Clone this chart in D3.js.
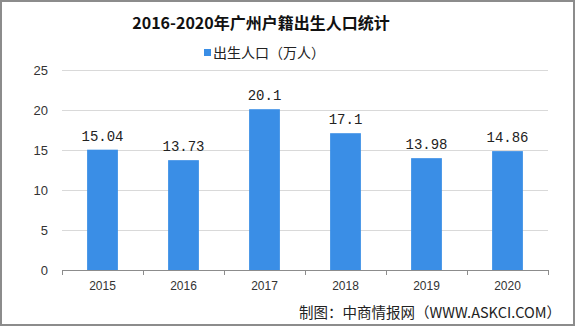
<!DOCTYPE html>
<html>
<head>
<meta charset="utf-8">
<script src="https://cdn.jsdelivr.net/npm/d3@7"></script>
<style>
  body { margin: 0; background: #fff; }
  svg { display: block; }
</style>
</head>
<body>
<div id="chart"></div>
<script>
// data
var years = ["2015", "2016", "2017", "2018", "2019", "2020"]
var births = [15.04, 13.73, 20.1, 17.1, 13.98, 14.86]
var birthLabels = ["15.04", "13.73", "20.1", "17.1", "13.98", "14.86"]
var yTicks = [0, 5, 10, 15, 20, 25]

var width = 575
var height = 326
// plot area edges ("top" is taken by window.top, so use own names)
var plotLeft = 62, plotRight = 548, plotTop = 70, plotBottom = 270

var svg = d3.select("#chart")
  .append("svg")
  .attr("width", width)
  .attr("height", height)

// outer frame
svg.append("rect")
  .attr("x", 1).attr("y", 1)
  .attr("width", width - 2).attr("height", height - 2)
  .attr("fill", "#fff")
  .attr("stroke", "#8c8c8c")
  .attr("stroke-width", 2)

var xscale = d3.scaleBand()
  .domain(years)
  .range([plotLeft, plotRight])
  .paddingInner(0.62)
  .paddingOuter(0.31)

var yscale = d3.scaleLinear()
  .domain([0, 25])
  .range([plotBottom, plotTop])

// gridlines
svg.append("g")
  .selectAll("line")
  .data(yTicks.filter(function(d){ return d > 0 }))
  .enter()
  .append("line")
  .attr("x1", plotLeft)
  .attr("x2", plotRight)
  .attr("y1", function(d){ return Math.round(yscale(d)) + 0.5 })
  .attr("y2", function(d){ return Math.round(yscale(d)) + 0.5 })
  .attr("stroke", "#d9d9d9")
  .attr("stroke-width", 1)

// y axis labels (no axis line)
var yaxis = d3.axisLeft(yscale).tickValues(yTicks).tickSize(0).tickPadding(14)
var yg = svg.append("g")
  .attr("transform", "translate(" + plotLeft + ",0)")
  .call(yaxis)
yg.select(".domain").remove()
yg.selectAll("text")
  .attr("font-family", "Liberation Sans, Arial, sans-serif")
  .attr("font-size", 13)
  .attr("fill", "#333")

// bars
svg.append("g")
  .selectAll("rect")
  .data(births)
  .enter()
  .append("rect")
  .attr("x", function(d, i){ return xscale(years[i]) })
  .attr("y", function(d){ return yscale(d) })
  .attr("width", xscale.bandwidth())
  .attr("height", function(d){ return yscale(0) - yscale(d) })
  .attr("fill", "#3a8ee6")

// value labels
svg.append("g")
  .selectAll("text")
  .data(births)
  .enter()
  .append("text")
  .attr("x", function(d, i){ return xscale(years[i]) + xscale.bandwidth() / 2 })
  .attr("y", function(d){ return yscale(d) - 9 })
  .attr("text-anchor", "middle")
  .attr("font-family", "Liberation Mono, monospace")
  .attr("font-size", 14)
  .attr("fill", "#222")
  .text(function(d, i){ return birthLabels[i] })

// x axis with boundary ticks
var step = xscale.step()
var xline = svg.append("g")
xline.append("line")
  .attr("x1", plotLeft).attr("x2", plotRight)
  .attr("y1", plotBottom + 0.5).attr("y2", plotBottom + 0.5)
  .attr("stroke", "#8c8c8c")
xline.selectAll(".tick")
  .data(d3.range(years.length + 1))
  .enter()
  .append("line")
  .attr("x1", function(i){ return Math.round(plotLeft + i * step) + 0.5 })
  .attr("x2", function(i){ return Math.round(plotLeft + i * step) + 0.5 })
  .attr("y1", plotBottom)
  .attr("y2", plotBottom + 5)
  .attr("stroke", "#8c8c8c")

svg.append("g")
  .selectAll("text")
  .data(years)
  .enter()
  .append("text")
  .attr("x", function(d){ return xscale(d) + xscale.bandwidth() / 2 })
  .attr("y", plotBottom + 20)
  .attr("text-anchor", "middle")
  .attr("font-family", "Liberation Sans, Arial, sans-serif")
  .attr("font-size", 12)
  .attr("fill", "#333")
  .text(function(d){ return d })

// title
svg.append("text")
  .attr("x", 261)
  .attr("y", 29)
  .attr("text-anchor", "middle")
  .attr("font-family", "Noto Sans CJK SC, sans-serif")
  .attr("font-weight", "bold")
  .attr("font-size", 16)
  .attr("fill", "#111")
  .text("2016-2020年广州户籍出生人口统计")

// legend
svg.append("rect")
  .attr("x", 204).attr("y", 49)
  .attr("width", 7).attr("height", 7)
  .attr("fill", "#3a8ee6")
svg.append("text")
  .attr("x", 213)
  .attr("y", 58)
  .attr("font-family", "Noto Sans CJK SC, sans-serif")
  .attr("font-size", 14)
  .attr("fill", "#222")
  .text("出生人口（万人）")

// source note
svg.append("text")
  .attr("x", 561)
  .attr("y", 318)
  .attr("text-anchor", "end")
  .attr("font-family", "Noto Sans CJK SC, sans-serif")
  .attr("font-size", 14.5)
  .attr("fill", "#222")
  .text("制图：中商情报网（WWW.ASKCI.COM）")
</script>
</body>
</html>
